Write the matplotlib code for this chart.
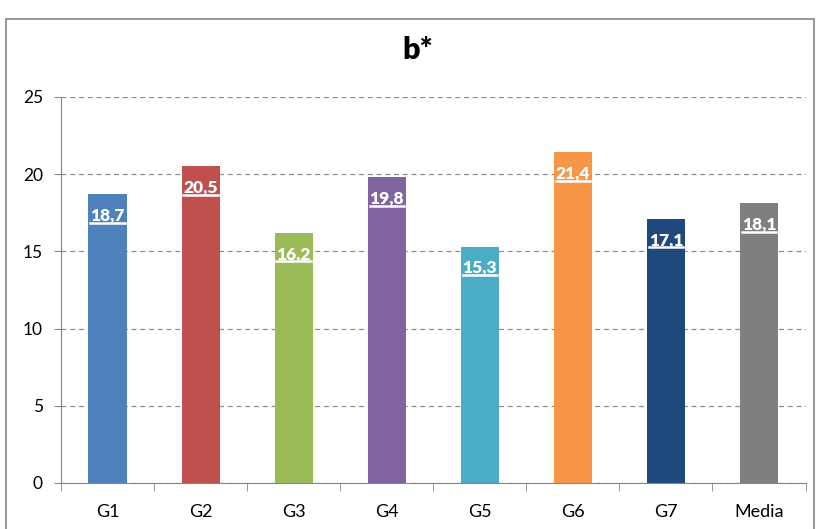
import numpy as np
import matplotlib.pyplot as plt
from matplotlib.patches import Rectangle
from matplotlib.lines import Line2D

categories = ['G1', 'G2', 'G3', 'G4', 'G5', 'G6', 'G7', 'Media']
values = [18.7, 20.5, 16.2, 19.8, 15.3, 21.4, 17.1, 18.1]
colors = ['#4F81BD', '#C0504D', '#9BBB59', '#8064A2', '#4BACC6', '#F79646', '#1F497D', '#7F7F7F']

plt.rcParams['font.family'] = ['Lato', 'DejaVu Sans']

fig = plt.figure(figsize=(8.2, 5.29), dpi=100)
ax = fig.add_axes([0.0744, 0.087, 0.908, 0.730])

x = np.arange(len(categories))
ax.bar(x, values, width=0.41, color=colors, zorder=3)

labels = []
for xi, v in zip(x, values):
    label = f'{v:.1f}'.replace('.', ',')
    t = ax.annotate(label, (xi, v), xytext=(0, -15.5),
                    textcoords='offset points', ha='center', va='center',
                    color='white', fontsize=12.5, fontweight='heavy', zorder=4)
    labels.append(t)

ax.set_xlim(-0.5, len(categories) - 0.5)
ax.set_ylim(0, 25)
ax.set_yticks(range(0, 26, 5))
ax.set_xticks(x)
ax.set_xticklabels(categories)
ax.set_xticks(np.arange(-0.5, len(categories), 1), minor=True)
ax.tick_params(axis='x', which='major', length=0, pad=15, labelsize=13)
ax.tick_params(axis='x', which='minor', length=6, color='#868686', direction='out')
ax.tick_params(axis='y', length=5, color='#868686', labelsize=12.5, pad=8)

ax.yaxis.grid(True, linestyle=(0, (4, 3)), color='#8C8C8C', linewidth=0.9, zorder=0)
for s in ['top', 'right']:
    ax.spines[s].set_visible(False)
ax.spines['left'].set_color('#868686')
ax.spines['bottom'].set_color('#868686')
ax.spines['bottom'].set_zorder(5)

fig.text(0.509, 0.905, 'b*', ha='center', va='center', fontsize=22, fontweight='heavy')

fig.patches.append(Rectangle((0.007, -0.05), 0.986, 1.015, transform=fig.transFigure,
                             fill=False, edgecolor='#868686', linewidth=1.2))

# underline the value labels
fig.canvas.draw()
renderer = fig.canvas.get_renderer()
for t in labels:
    bb = t.get_window_extent(renderer)
    y = bb.y0 + 1
    fig.add_artist(Line2D([bb.x0, bb.x1], [y, y], transform=None,
                          color='white', linewidth=1.8, zorder=6))

fig.savefig('out.png', dpi=100)
